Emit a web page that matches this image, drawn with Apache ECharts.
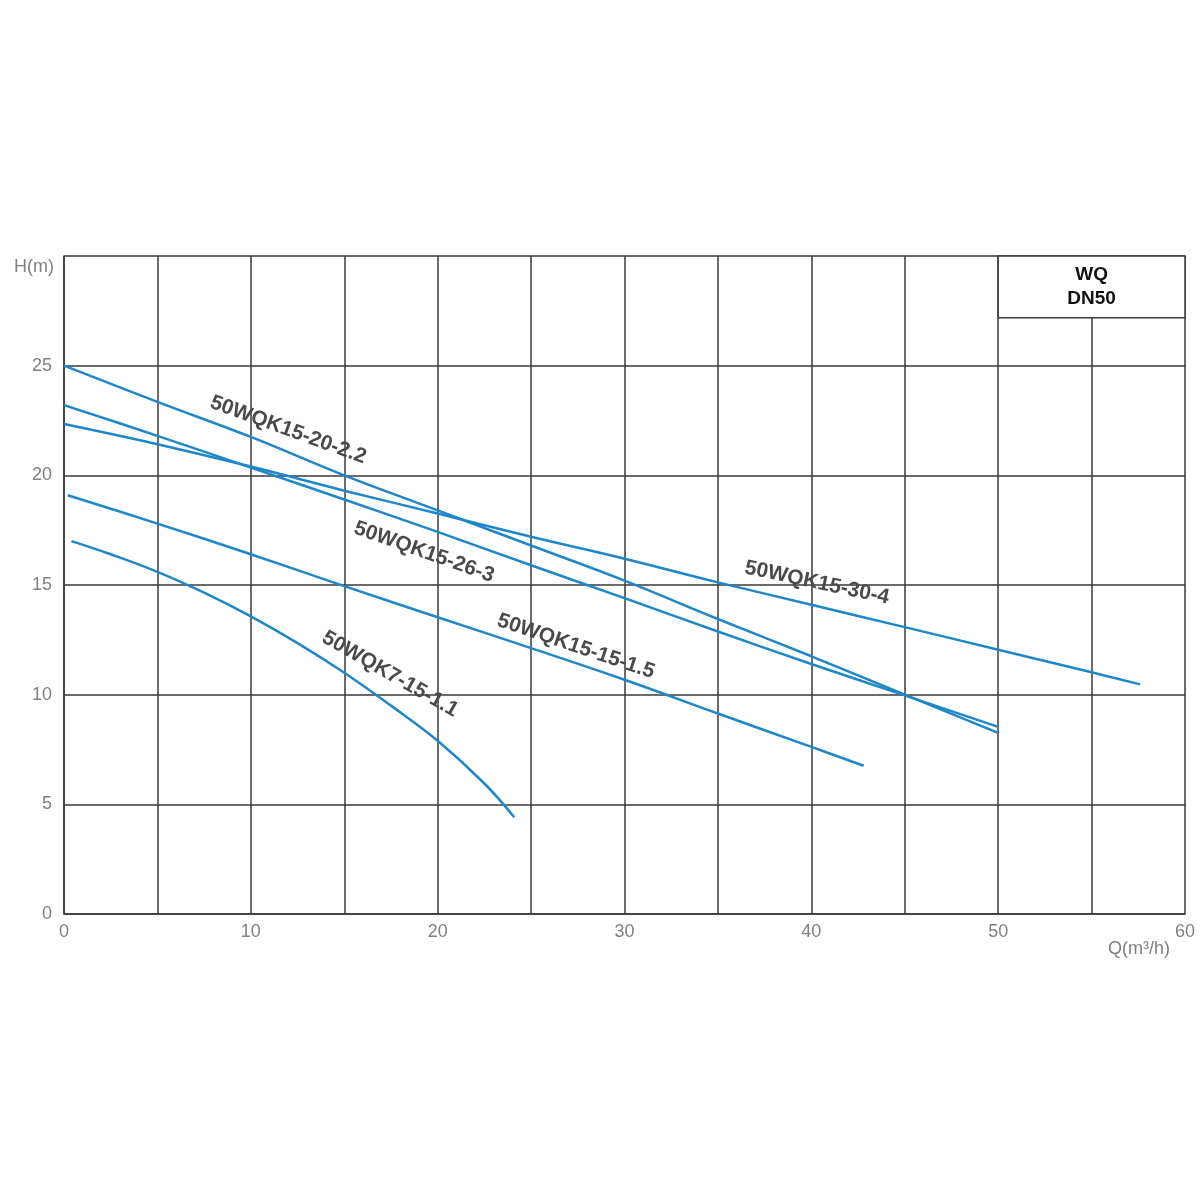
<!DOCTYPE html>
<html>
<head>
<meta charset="utf-8">
<script src="https://cdn.jsdelivr.net/npm/echarts@6/dist/echarts.min.js"></script>
<style>
  html, body { margin: 0; padding: 0; background: #fff; }
  #chart { width: 1200px; height: 1200px; }
</style>
</head>
<body>
<div id="chart"></div>
<script>
// 数据 (Q m3/h, H m)
var q22 = [0, 5, 10, 15, 20, 25, 30, 35, 40, 45, 50]
var h22 = [25.0, 23.35, 21.75, 20.0, 18.4, 16.8, 15.2, 13.45, 11.75, 10.0, 8.26]

var q263 = [0, 5, 10, 15, 20, 25, 30, 35, 40, 45, 50]
var h263 = [23.2, 21.8, 20.35, 18.9, 17.42, 15.9, 14.4, 12.88, 11.4, 9.97, 8.53]

var q304 = [0, 5, 10, 15, 20, 25, 30, 35, 40, 45, 50, 55, 57.6]
var h304 = [22.34, 21.42, 20.4, 19.3, 18.26, 17.2, 16.2, 15.12, 14.1, 13.08, 12.05, 11.02, 10.47]

var q15 = [0.2, 5, 10, 15, 20, 25, 30, 35, 40, 42.8]
var h15 = [19.09, 17.8, 16.4, 14.95, 13.53, 12.12, 10.68, 9.14, 7.62, 6.76]

var q11 = [0.4, 2.5, 5, 7.5, 10, 12.5, 15, 17.5, 20, 22.5, 24.1]
var h11 = [17.0, 16.4, 15.6, 14.65, 13.57, 12.35, 11.0, 9.5, 7.9, 5.95, 4.41]

// 曲线名称及标注位置 [Q, H, 角度]
var names = ['50WQK15-20-2.2', '50WQK15-26-3', '50WQK15-30-4', '50WQK15-15-1.5', '50WQK7-15-1.1']
var labelPos = [[12.0, 22.07, -20], [19.27, 16.5, -19.5], [40.3, 15.1, -12], [27.4, 12.2, -18.7], [17.45, 10.94, -29.7]]
var qs = [q22, q263, q304, q15, q11]
var hs = [h22, h263, h304, h15, h11]

var lineColor = '#1f87c8'
var gridColor = '#3a3a3a'
var font = 'Liberation Sans, Arial, sans-serif'

function zip(a, b) {
    return a.map(function (v, i) { return [v, b[i]] })
}

var series = names.map(function (n, i) {
    return {
        name: n,
        type: 'line',
        data: zip(qs[i], hs[i]),
        smooth: 0.4,
        symbol: 'none',
        lineStyle: { color: lineColor, width: 2.5 },
        z: 3,
        markPoint: {
            symbol: 'circle',
            symbolSize: 0,
            silent: true,
            label: {
                show: true,
                position: 'inside',
                formatter: n,
                rotate: labelPos[i][2],
                color: '#4a4a4a',
                fontSize: 21,
                fontWeight: 'bold',
                fontFamily: font
            },
            data: [{ coord: [labelPos[i][0], labelPos[i][1]] }]
        }
    }
})

// 型号框
series.push({
    type: 'line',
    data: [],
    markArea: {
        silent: true,
        itemStyle: { color: '#fff', borderColor: gridColor, borderWidth: 1.5 },
        label: {
            show: true,
            position: 'inside',
            formatter: 'WQ\nDN50',
            color: '#111',
            fontSize: 19,
            fontWeight: 'bold',
            lineHeight: 24,
            fontFamily: font
        },
        data: [[{ coord: [50, 27.18] }, { coord: [60, 30] }]]
    }
})

var option = {
    backgroundColor: '#fff',
    animation: false,
    grid: { left: 64, right: 15, top: 256, bottom: 286, containLabel: false, outerBoundsMode: 'none' },
    xAxis: {
        type: 'value',
        min: 0,
        max: 60,
        interval: 5,
        name: 'Q(m³/h)',
        nameLocation: 'end',
        nameGap: -15,
        nameMoveOverlap: false,
        nameTextStyle: {
            color: '#808080', fontSize: 18, align: 'right', verticalAlign: 'top',
            padding: [26, 0, 0, 0], fontFamily: font
        },
        axisLine: { lineStyle: { color: gridColor, width: 1.5 } },
        axisTick: { show: false },
        axisLabel: {
            color: '#808080', fontSize: 18, margin: 9,
            fontFamily: font,
            formatter: function (v) { return v % 10 === 0 ? String(v) : '' }
        },
        splitLine: { show: true, lineStyle: { color: gridColor, width: 1.5 } }
    },
    yAxis: {
        type: 'value',
        min: 0,
        max: 30,
        interval: 5,
        name: 'H(m)',
        nameLocation: 'end',
        nameGap: -20,
        nameMoveOverlap: false,
        nameTextStyle: {
            color: '#808080', fontSize: 18, align: 'right', verticalAlign: 'bottom',
            padding: [0, 10, 0, 0], fontFamily: font
        },
        axisLine: { show: true, lineStyle: { color: gridColor, width: 1.5 } },
        axisTick: { show: false },
        axisLabel: {
            color: '#808080', fontSize: 18, margin: 12,
            fontFamily: font,
            formatter: function (v) { return v === 30 ? '' : String(v) }
        },
        splitLine: { show: true, lineStyle: { color: gridColor, width: 1.5 } }
    },
    series: series
}

var chart = echarts.init(document.getElementById('chart'))
chart.setOption(option)
</script>
</body>
</html>
